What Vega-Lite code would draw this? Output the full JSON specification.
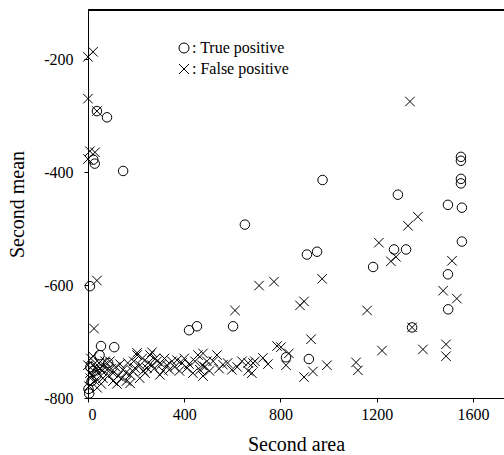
{
  "$schema": "https://vega.github.io/schema/vega-lite/v6.json",
  "width": 416,
  "height": 388,
  "autosize": {"type": "none"},
  "padding": {"left": 88, "top": 10, "right": 0, "bottom": 57},
  "config": {"view": {"stroke": null}, "font": "Liberation Serif"},
  "data": {
    "values": [
      {"a": 37, "m": -292, "t": "True positive"},
      {"a": 79, "m": -303, "t": "True positive"},
      {"a": 22, "m": -378, "t": "True positive"},
      {"a": 28, "m": -385, "t": "True positive"},
      {"a": 146, "m": -398, "t": "True positive"},
      {"a": 8, "m": -602, "t": "True positive"},
      {"a": 1550, "m": -373, "t": "True positive"},
      {"a": 1550, "m": -380, "t": "True positive"},
      {"a": 1550, "m": -412, "t": "True positive"},
      {"a": 1550, "m": -420, "t": "True positive"},
      {"a": 1288, "m": -440, "t": "True positive"},
      {"a": 1496, "m": -458, "t": "True positive"},
      {"a": 1554, "m": -463, "t": "True positive"},
      {"a": 1554, "m": -523, "t": "True positive"},
      {"a": 1272, "m": -537, "t": "True positive"},
      {"a": 1322, "m": -537, "t": "True positive"},
      {"a": 1185, "m": -568, "t": "True positive"},
      {"a": 1496, "m": -581, "t": "True positive"},
      {"a": 975, "m": -414, "t": "True positive"},
      {"a": 910, "m": -546, "t": "True positive"},
      {"a": 952, "m": -541, "t": "True positive"},
      {"a": 420, "m": -680, "t": "True positive"},
      {"a": 453, "m": -673, "t": "True positive"},
      {"a": 603, "m": -673, "t": "True positive"},
      {"a": 652, "m": -493, "t": "True positive"},
      {"a": 1347, "m": -675, "t": "True positive"},
      {"a": 1497, "m": -643, "t": "True positive"},
      {"a": 823, "m": -728, "t": "True positive"},
      {"a": 918, "m": -731, "t": "True positive"},
      {"a": 54, "m": -708, "t": "True positive"},
      {"a": 109, "m": -710, "t": "True positive"},
      {"a": 48, "m": -724, "t": "True positive"},
      {"a": 84, "m": -738, "t": "True positive"},
      {"a": 22, "m": -752, "t": "True positive"},
      {"a": 2, "m": -784, "t": "True positive"},
      {"a": 5, "m": -792, "t": "True positive"},
      {"a": 15, "m": -770, "t": "True positive"},
      {"a": 35, "m": -760, "t": "True positive"},
      {"a": 10, "m": -745, "t": "True positive"},
      {"a": 0, "m": -196, "t": "False positive"},
      {"a": 21, "m": -187, "t": "False positive"},
      {"a": 0, "m": -270, "t": "False positive"},
      {"a": 37, "m": -292, "t": "False positive"},
      {"a": 8, "m": -363, "t": "False positive"},
      {"a": 29, "m": -365, "t": "False positive"},
      {"a": 0, "m": -377, "t": "False positive"},
      {"a": 1338, "m": -275, "t": "False positive"},
      {"a": 1371, "m": -479, "t": "False positive"},
      {"a": 1330, "m": -495, "t": "False positive"},
      {"a": 1209, "m": -525, "t": "False positive"},
      {"a": 1280, "m": -550, "t": "False positive"},
      {"a": 1259, "m": -558, "t": "False positive"},
      {"a": 1513, "m": -557, "t": "False positive"},
      {"a": 1476, "m": -610, "t": "False positive"},
      {"a": 1533, "m": -624, "t": "False positive"},
      {"a": 711, "m": -601, "t": "False positive"},
      {"a": 773, "m": -594, "t": "False positive"},
      {"a": 973, "m": -589, "t": "False positive"},
      {"a": 881, "m": -636, "t": "False positive"},
      {"a": 898, "m": -629, "t": "False positive"},
      {"a": 1160, "m": -645, "t": "False positive"},
      {"a": 1347, "m": -675, "t": "False positive"},
      {"a": 927, "m": -696, "t": "False positive"},
      {"a": 1222, "m": -716, "t": "False positive"},
      {"a": 1392, "m": -714, "t": "False positive"},
      {"a": 1488, "m": -705, "t": "False positive"},
      {"a": 1488, "m": -726, "t": "False positive"},
      {"a": 611, "m": -645, "t": "False positive"},
      {"a": 37, "m": -592, "t": "False positive"},
      {"a": 25, "m": -677, "t": "False positive"},
      {"a": 802, "m": -710, "t": "False positive"},
      {"a": 835, "m": -721, "t": "False positive"},
      {"a": 823, "m": -742, "t": "False positive"},
      {"a": 898, "m": -763, "t": "False positive"},
      {"a": 935, "m": -753, "t": "False positive"},
      {"a": 993, "m": -742, "t": "False positive"},
      {"a": 1114, "m": -737, "t": "False positive"},
      {"a": 1122, "m": -751, "t": "False positive"},
      {"a": 786, "m": -708, "t": "False positive"},
      {"a": 686, "m": -738, "t": "False positive"},
      {"a": 727, "m": -729, "t": "False positive"},
      {"a": 748, "m": -740, "t": "False positive"},
      {"a": 681, "m": -756, "t": "False positive"},
      {"a": 666, "m": -738, "t": "False positive"},
      {"a": 694, "m": -735, "t": "False positive"},
      {"a": 666, "m": -752, "t": "False positive"},
      {"a": 478, "m": -721, "t": "False positive"},
      {"a": 494, "m": -735, "t": "False positive"},
      {"a": 536, "m": -724, "t": "False positive"},
      {"a": 561, "m": -741, "t": "False positive"},
      {"a": 598, "m": -750, "t": "False positive"},
      {"a": 478, "m": -761, "t": "False positive"},
      {"a": 520, "m": -735, "t": "False positive"},
      {"a": 0, "m": -742, "t": "False positive"},
      {"a": 17, "m": -759, "t": "False positive"},
      {"a": 29, "m": -770, "t": "False positive"},
      {"a": 50, "m": -747, "t": "False positive"},
      {"a": 62, "m": -765, "t": "False positive"},
      {"a": 91, "m": -735, "t": "False positive"},
      {"a": 104, "m": -756, "t": "False positive"},
      {"a": 125, "m": -761, "t": "False positive"},
      {"a": 145, "m": -750, "t": "False positive"},
      {"a": 175, "m": -759, "t": "False positive"},
      {"a": 195, "m": -747, "t": "False positive"},
      {"a": 204, "m": -724, "t": "False positive"},
      {"a": 216, "m": -742, "t": "False positive"},
      {"a": 237, "m": -756, "t": "False positive"},
      {"a": 258, "m": -724, "t": "False positive"},
      {"a": 266, "m": -742, "t": "False positive"},
      {"a": 287, "m": -735, "t": "False positive"},
      {"a": 299, "m": -759, "t": "False positive"},
      {"a": 328, "m": -742, "t": "False positive"},
      {"a": 349, "m": -735, "t": "False positive"},
      {"a": 370, "m": -733, "t": "False positive"},
      {"a": 391, "m": -738, "t": "False positive"},
      {"a": 411, "m": -747, "t": "False positive"},
      {"a": 436, "m": -756, "t": "False positive"},
      {"a": 457, "m": -724, "t": "False positive"},
      {"a": 474, "m": -742, "t": "False positive"},
      {"a": 21, "m": -742, "t": "False positive"},
      {"a": 8, "m": -756, "t": "False positive"},
      {"a": 42, "m": -756, "t": "False positive"},
      {"a": 79, "m": -750, "t": "False positive"},
      {"a": 104, "m": -770, "t": "False positive"},
      {"a": 175, "m": -774, "t": "False positive"},
      {"a": 245, "m": -747, "t": "False positive"},
      {"a": 312, "m": -752, "t": "False positive"},
      {"a": 21, "m": -726, "t": "False positive"},
      {"a": 4, "m": -779, "t": "False positive"},
      {"a": 71, "m": -735, "t": "False positive"},
      {"a": 204, "m": -720, "t": "False positive"},
      {"a": 266, "m": -719, "t": "False positive"},
      {"a": 10, "m": -765, "t": "False positive"},
      {"a": 33, "m": -748, "t": "False positive"},
      {"a": 46, "m": -738, "t": "False positive"},
      {"a": 58, "m": -752, "t": "False positive"},
      {"a": 66, "m": -742, "t": "False positive"},
      {"a": 86, "m": -760, "t": "False positive"},
      {"a": 96, "m": -748, "t": "False positive"},
      {"a": 115, "m": -745, "t": "False positive"},
      {"a": 133, "m": -740, "t": "False positive"},
      {"a": 140, "m": -765, "t": "False positive"},
      {"a": 158, "m": -755, "t": "False positive"},
      {"a": 165, "m": -738, "t": "False positive"},
      {"a": 185, "m": -752, "t": "False positive"},
      {"a": 190, "m": -735, "t": "False positive"},
      {"a": 225, "m": -730, "t": "False positive"},
      {"a": 230, "m": -752, "t": "False positive"},
      {"a": 250, "m": -738, "t": "False positive"},
      {"a": 275, "m": -748, "t": "False positive"},
      {"a": 280, "m": -730, "t": "False positive"},
      {"a": 305, "m": -740, "t": "False positive"},
      {"a": 318, "m": -730, "t": "False positive"},
      {"a": 338, "m": -750, "t": "False positive"},
      {"a": 360, "m": -745, "t": "False positive"},
      {"a": 380, "m": -752, "t": "False positive"},
      {"a": 400, "m": -730, "t": "False positive"},
      {"a": 420, "m": -740, "t": "False positive"},
      {"a": 445, "m": -735, "t": "False positive"},
      {"a": 465, "m": -750, "t": "False positive"},
      {"a": 485, "m": -745, "t": "False positive"},
      {"a": 505, "m": -752, "t": "False positive"},
      {"a": 545, "m": -748, "t": "False positive"},
      {"a": 580, "m": -738, "t": "False positive"},
      {"a": 620, "m": -745, "t": "False positive"},
      {"a": 640, "m": -735, "t": "False positive"},
      {"a": 12, "m": -730, "t": "False positive"},
      {"a": 38, "m": -782, "t": "False positive"},
      {"a": 55, "m": -775, "t": "False positive"},
      {"a": 120, "m": -775, "t": "False positive"},
      {"a": 215, "m": -765, "t": "False positive"},
      {"a": 160, "m": -770, "t": "False positive"}
    ]
  },
  "layer": [
    {
      "mark": {"type": "point", "filled": false, "color": "black", "strokeWidth": 1, "size": 90, "opacity": 1},
      "encoding": {
        "x": {
          "field": "a", "type": "quantitative",
          "scale": {"domain": [0, 1729], "nice": false, "zero": false},
          "axis": {
            "values": [0, 400, 800, 1200, 1600], "title": "Second area", "grid": false,
            "labelExpr": "'' + datum.value",
            "labelFont": "Liberation Serif", "titleFont": "Liberation Serif",
            "labelFontSize": 16, "titleFontSize": 20, "titleFontWeight": 400,
            "tickSize": 4, "labelPadding": 4, "domainColor": "black", "tickColor": "black",
            "labelColor": "black", "titleColor": "black",
            "titleBaseline": "middle", "titleX": 208, "titleY": 46
          }
        },
        "y": {
          "field": "m", "type": "quantitative",
          "scale": {"domain": [-800, -113], "nice": false, "zero": false},
          "axis": {
            "values": [-200, -400, -600, -800], "title": "Second mean", "grid": false,
            "labelExpr": "'' + datum.value",
            "labelFont": "Liberation Serif", "titleFont": "Liberation Serif",
            "labelFontSize": 16, "titleFontSize": 20, "titleFontWeight": 400,
            "tickSize": 4, "labelPadding": 11, "domainColor": "black", "tickColor": "black",
            "labelColor": "black", "titleColor": "black",
            "titleBaseline": "middle", "titleX": -71, "titleY": 194
          }
        },
        "shape": {
          "field": "t", "type": "nominal",
          "scale": {"domain": ["True positive", "False positive"], "range": ["circle", "M-1,-1L1,1M-1,1L1,-1"]},
          "legend": {
            "orient": "none", "legendX": 88, "legendY": 30, "title": null, "padding": 0,
            "labelFont": "Liberation Serif", "labelFontSize": 16, "labelColor": "black",
            "labelExpr": "': ' + datum.label", "labelOffset": 0,
            "symbolStrokeColor": "black", "symbolFillColor": "transparent", "symbolStrokeWidth": 1,
            "symbolSize": 100, "rowPadding": 5
          }
        }
      }
    },
    {
      "mark": {"type": "rule", "color": "black", "strokeWidth": 1.5},
      "encoding": {"y": {"datum": -113}}
    }
  ]
}
